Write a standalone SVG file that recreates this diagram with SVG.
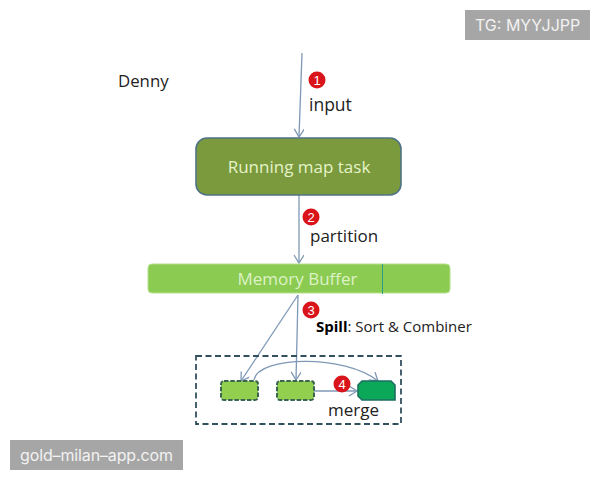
<svg xmlns="http://www.w3.org/2000/svg" width="600" height="480" viewBox="0 0 600 480">
<style>
.t{font-family:"Open Sans","Noto Sans","DejaVu Sans",sans-serif;fill:#222}
.c{fill:none;stroke:#7f98b5;stroke-width:1.3}
.b{font-family:"Liberation Sans",sans-serif;font-size:13px;fill:#fff;text-anchor:middle}
.w{font-family:"Inter","Liberation Sans",sans-serif;font-size:16px;fill:#f2f2f2}
.g{fill:#92cf4e;stroke:#3a6650;stroke-width:2;stroke-dasharray:4.500 1.800}
</style>
<defs><marker id="a" markerWidth="12" markerHeight="12" refX="9" refY="5" orient="auto" markerUnits="userSpaceOnUse"><path d="M1 0L9 5L1 10" fill="none" stroke="#7f98b5" stroke-width="1.3"/></marker></defs>
<rect width="600" height="480" fill="#fff"/>
<g id="connectors">
<path class="c" marker-end="url(#a)" d="M302 53L299 137"/>
<path class="c" marker-end="url(#a)" d="M299 195V263"/>
<path class="c" marker-end="url(#a)" d="M298 295L241 381"/>
<path class="c" marker-end="url(#a)" d="M298 295L296 380"/>
<path class="c" marker-end="url(#a)" d="M254 380C258 356 345 354 378 381"/>
<path class="c" marker-end="url(#a)" d="M314 391H357"/>
</g>
<g id="running-map-task"><rect x="196" y="138" width="205" height="57" rx="11" fill="#7a9a3d" stroke="#4f7386" stroke-width="1.6"/><text x="299" y="173" text-anchor="middle" class="t" font-size="17" style="fill:#e6f3c9">Running map task</text></g>
<g id="memory-buffer"><rect x="148" y="264" width="302" height="29" rx="4" fill="#8ccb52" stroke="#b3e08a"/><path d="M382.500 264V294" stroke="#2f9a86" stroke-width="1"/><text x="297.500" y="285" text-anchor="middle" class="t" font-size="17" style="fill:#dcf2c6">Memory Buffer</text></g>
<g id="container"><rect x="196" y="356" width="205" height="68" fill="none" stroke="#33505f" stroke-width="1.8" stroke-dasharray="6 3.500"/></g>
<g id="segment-1"><rect x="221" y="381" width="37" height="19" rx="3" class="g"/></g>
<g id="segment-2"><rect x="277" y="381" width="37" height="19" rx="3" class="g"/></g>
<g id="merged"><path d="M358 385L362 381H391L395 385V400H362L358 396Z" fill="#0aa858" stroke="#1c6f62" stroke-width="1.6"/></g>
<g id="badge-1"><circle cx="317" cy="80" r="8.500" fill="#d9141a"/><text x="317" y="85" class="b">1</text></g>
<g id="badge-2"><circle cx="311" cy="217" r="8.500" fill="#d9141a"/><text x="311" y="221.500" class="b">2</text></g>
<g id="badge-3"><circle cx="311" cy="310" r="8.500" fill="#d9141a"/><text x="311" y="315" class="b">3</text></g>
<g id="badge-4"><circle cx="342" cy="384" r="8.500" fill="#d9141a"/><text x="342" y="389" class="b">4</text></g>
<g id="labels">
<text x="118" y="87" class="t" font-size="16.800">Denny</text>
<text x="309" y="111" class="t" font-size="17.500">input</text>
<text x="310" y="242" class="t" font-size="17">partition</text>
<text x="316" y="332" class="t" font-size="15"><tspan font-weight="700" style="fill:#000">Spill</tspan>: Sort &amp; Combiner</text>
<text x="328" y="416" class="t" font-size="17">merge</text>
</g>
<g id="watermark-top"><rect x="465" y="10" width="125" height="30" fill="#a6a6a6"/><text x="475" y="31" class="w">TG: MYYJJPP</text></g>
<g id="watermark-bottom"><rect x="10" y="440" width="173" height="30" fill="#a6a6a6"/><text x="20" y="461" class="w" font-size="16" textLength="153">gold–milan–app.com</text></g>
</svg>
